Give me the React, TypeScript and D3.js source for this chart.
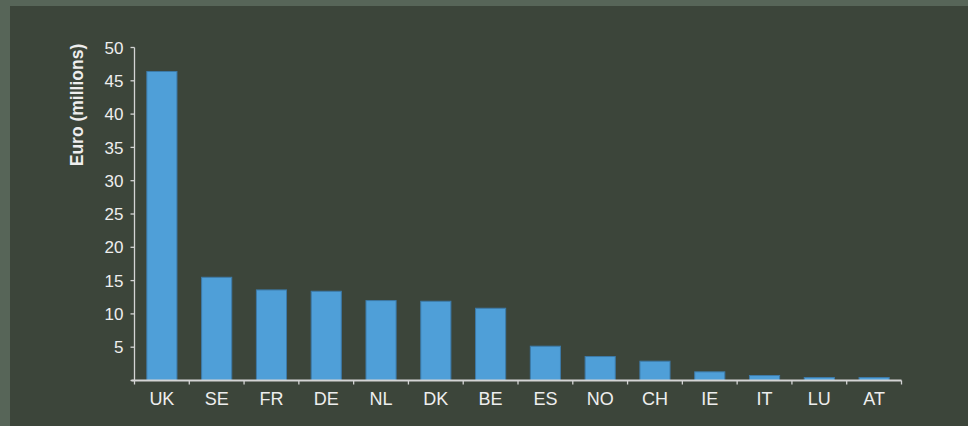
import React from "react";
import * as d3 from "d3";

const categories = ["UK", "SE", "FR", "DE", "NL", "DK", "BE", "ES", "NO", "CH", "IE", "IT", "LU", "AT"];
const values = [46.4, 15.5, 13.6, 13.4, 12.0, 11.9, 10.85, 5.15, 3.6, 2.9, 1.3, 0.75, 0.45, 0.45];
const yTicks = [5, 10, 15, 20, 25, 30, 35, 40, 45, 50];
const yLabel = "Euro (millions)";

const W = 968;
const H = 426;
const left = 134.5;
const right = 901.5;
const top = 47.5;
const bottom = 380.5;

export default function App() {
  const x = d3.scaleBand<string>().domain(categories).range([left, right]).paddingInner(0.45).paddingOuter(0.225);
  const y = d3.scaleLinear().domain([0, 50]).range([bottom, top]);
  const step = x.step();
  const boundaries = d3.range(categories.length + 1).map((i) => left + i * step);
  const textColor = "#eeeeee";
  const axisColor = "#d4d4d4";
  return (
    <svg width={W} height={H} style={{ position: "absolute", left: 0, top: 0, display: "block" }}
      fontFamily="'Liberation Sans', Arial, sans-serif">
      <rect x={0} y={0} width={W} height={H} fill="#576558" />
      <rect x={10} y={6} width={W - 10} height={H - 6} fill="#3c453a" />
      {categories.map((c, i) => (
        <rect key={c} x={x(c)} y={y(values[i])} width={x.bandwidth()} height={bottom - y(values[i])}
          fill="#4f9fd8" stroke="#3d7aa8" strokeWidth={1} />
      ))}
      {/* y axis */}
      <line x1={left} x2={left} y1={top} y2={bottom} stroke={axisColor} strokeWidth={1.3} />
      {[0, ...yTicks].map((t) => (
        <line key={t} x1={left - 4} x2={left} y1={y(t)} y2={y(t)} stroke={axisColor} strokeWidth={1.3} />
      ))}
      {yTicks.map((t) => (
        <text key={t} x={left - 11} y={y(t)} dy="0.36em" textAnchor="end" fontSize={17} fill={textColor}>{t}</text>
      ))}
      {/* x axis */}
      <line x1={left - 3} x2={right} y1={bottom} y2={bottom} stroke={axisColor} strokeWidth={2} />
      {boundaries.map((b, i) => (
        <line key={i} x1={b} x2={b} y1={bottom} y2={bottom + 4} stroke={axisColor} strokeWidth={1.3} />
      ))}
      {categories.map((c) => (
        <text key={c} x={(x(c) ?? 0) + x.bandwidth() / 2} y={405} textAnchor="middle" fontSize={18} fill={textColor}>{c}</text>
      ))}
      <text transform={`translate(83,105) rotate(-90)`} textAnchor="middle" fontSize={17.5} fontWeight="bold" fill={textColor}>{yLabel}</text>
    </svg>
  );
}
